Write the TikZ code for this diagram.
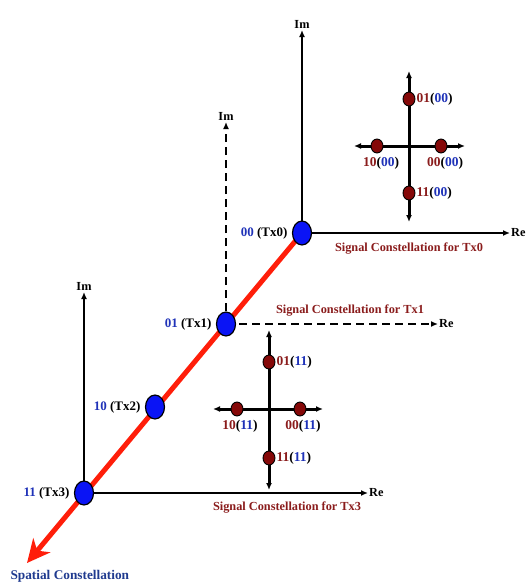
\documentclass[tikz,border=0pt]{standalone}
\usepackage{fontspec}
\setmainfont{Liberation Serif}
\usetikzlibrary{positioning,arrows.meta,shapes.geometric,backgrounds}
\definecolor{txblue}{HTML}{0A14F5}
\definecolor{bitblue}{HTML}{1F32B8}
\definecolor{darkred}{HTML}{8A1C1C}
\definecolor{dotred}{HTML}{850808}
\definecolor{spatred}{HTML}{FF1E0A}
\definecolor{spatblue}{HTML}{1F3A8F}
\newcommand\symbits[2]{#1\textcolor{black}{(}\textcolor{bitblue}{#2}\textcolor{black}{)}}
\newcommand\txbits[2]{\textcolor{bitblue}{#1} (Tx#2)}

\begin{document}
\begin{tikzpicture}[x=1pt,y=-1pt,node distance=2pt,
 font=\fontsize{12.3}{14}\selectfont\bfseries,
 txpt/.style={ellipse,draw=black,line width=1.2pt,fill=txblue,minimum width=19pt,
 minimum height=24pt,inner sep=0pt},
 sym/.style={ellipse,draw=black,line width=0.9pt,fill=dotred,minimum width=12pt,
 minimum height=14pt,inner sep=0pt},
 axis/.style={-{Latex[length=7pt,width=6pt]},line width=2.5pt},
 cross/.style={{Latex[length=7pt,width=6pt]}-{Latex[length=7pt,width=6pt]},line width=3pt},
 axlbl/.style={inner sep=1pt}, sclbl/.style={text=darkred},
 symlbl/.style={inner sep=1pt,text=darkred,font=\fontsize{13.5}{15}\selectfont\bfseries},
 txlbl/.style={font=\fontsize{13}{15}\selectfont\bfseries},
 spatial/.style={-{Stealth[length=23pt,width=22pt,inset=7pt]},line width=5pt,spatred}]
\useasboundingbox (0,0) rectangle (529,584);
\node[txpt] (tx0) at (302,233) {};
\node[txpt] (tx1) at (226,324) {};
\node[txpt] (tx2) at (155,407) {};
\node[txpt] (tx3) at (84,493) {};
\coordinate (spat) at (27,563);
\node[txlbl,left=1pt of tx0] (tx0lbl) {\txbits{00}{0}};
\node[txlbl,left=1pt of tx1] (tx1lbl) {\txbits{01}{1}};
\node[txlbl,left=1pt of tx2] (tx2lbl) {\txbits{10}{2}};
\node[txlbl,left=1pt of tx3] (tx3lbl) {\txbits{11}{3}};
\node[anchor=north west,text=spatblue,font=\fontsize{13.3}{15}\selectfont\bfseries]
 (spatlbl) at (7,567) {Spatial Constellation};
\coordinate (im0) at (302,30); \node[axlbl,above=0pt of im0] (im0lbl) {Im};
\coordinate (re0) at (510,233); \node[axlbl,right=0pt of re0] (re0lbl) {Re};
\coordinate (im1) at (226,122); \node[axlbl,above=0pt of im1] (im1lbl) {Im};
\coordinate (re1) at (438,324); \node[axlbl,right=0pt of re1] (re1lbl) {Re};
\coordinate (im3) at (84,292); \node[axlbl,above=0pt of im3] (im3lbl) {Im};
\coordinate (re3) at (368,493); \node[axlbl,right=0pt of re3] (re3lbl) {Re};
\node[sclbl] (sc0) at (409,249) {Signal Constellation for Tx0};
\node[sclbl] (sc1) at (350,311) {Signal Constellation for Tx1};
\node[sclbl] (sc3) at (287,508) {Signal Constellation for Tx3};

\node[sym] (a01) at (409,99) {};
\node[sym] (a11) at (409,193) {};
\node[sym] (a10) at (377,146) {};
\node[sym] (a00) at (441,146) {};
\coordinate (aN) at (409,71); \coordinate (aS) at (409,222);
\coordinate (aW) at (354,146); \coordinate (aE) at (465,146);
\node[symlbl,right=0pt of a01] (a01lbl) {\symbits{01}{00}};
\node[symlbl,right=0pt of a11] (a11lbl) {\symbits{11}{00}};
\node[symlbl,below=2pt of a10,xshift=4pt] (a10lbl) {\symbits{10}{00}};
\node[symlbl,below=2pt of a00,xshift=4pt] (a00lbl) {\symbits{00}{00}};

\node[sym] (b01) at (269,362) {};
\node[sym] (b11) at (269,458) {};
\node[sym] (b10) at (237,409) {};
\node[sym] (b00) at (300,409) {};
\coordinate (bN) at (269,330); \coordinate (bS) at (269,490);
\coordinate (bW) at (213,409); \coordinate (bE) at (323,409);
\node[symlbl,right=0pt of b01] (b01lbl) {\symbits{01}{11}};
\node[symlbl,right=0pt of b11] (b11lbl) {\symbits{11}{11}};
\node[symlbl,below=2pt of b10,xshift=3pt] (b10lbl) {\symbits{10}{11}};
\node[symlbl,below=2pt of b00,xshift=3pt] (b00lbl) {\symbits{00}{11}};

\begin{scope}[on background layer]
\draw[axis] (tx0.center) -- (im0); \draw[axis] (tx0.center) -- (re0);
\draw[axis,dash pattern=on 8pt off 5pt] (tx1.center) -- (im1);
\draw[axis,dash pattern=on 8pt off 5pt] (tx1.center) -- (re1);
\draw[axis] (tx3.center) -- (im3); \draw[axis] (tx3.center) -- (re3);
\draw[spatial] (tx0.center) -- (spat);
\draw[cross] (aS) -- (aN); \draw[cross] (aW) -- (aE);
\draw[cross] (bS) -- (bN); \draw[cross] (bW) -- (bE);
\end{scope}
\end{tikzpicture}
\end{document}
